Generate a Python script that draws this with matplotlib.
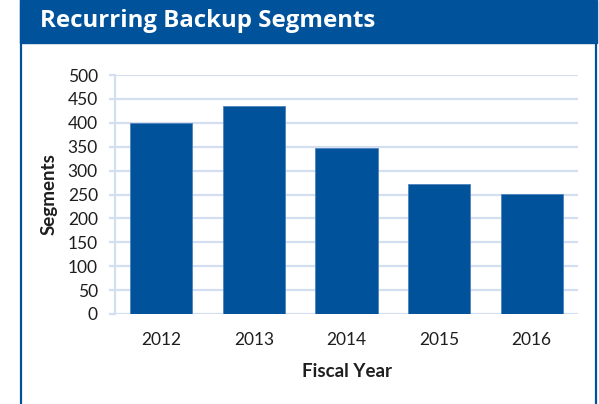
import matplotlib
matplotlib.use("Agg")
import matplotlib.pyplot as plt
from matplotlib.patches import Rectangle
from matplotlib.lines import Line2D

# data
years = ["2012", "2013", "2014", "2015", "2016"]
segments = [400, 436, 348, 272, 251]
y_ticks = [0, 50, 100, 150, 200, 250, 300, 350, 400, 450, 500]

BLUE = "#00529B"
GRID = "#D3DEF0"
TXT = "#1E1E1E"

W, H = 599, 404
fig = plt.figure(figsize=(W / 100, H / 100), dpi=100)

# title banner and side borders
fig.patches.append(Rectangle((20 / W, 1 - 43 / H), 577 / W, 43 / H,
                             transform=fig.transFigure, color=BLUE, zorder=0))
fig.lines.append(Line2D([21 / W, 21 / W], [0, 1], transform=fig.transFigure,
                        color=BLUE, lw=1.6))
fig.lines.append(Line2D([596 / W, 596 / W], [0, 1], transform=fig.transFigure,
                        color=BLUE, lw=1.6))
fig.text(40 / W, 1 - 21 / H, "Recurring Backup Segments", color="white",
         fontsize=17.3, fontweight="bold", family="Open Sans", va="center", ha="left")

ax = fig.add_axes([115 / W, 1 - 314 / H, 463 / W, 239 / H])
ax.bar(years, segments, width=0.67, color=BLUE, edgecolor="#4F81BD",
       linewidth=0.6, zorder=3)
ax.set_xlim(-0.5, len(years) - 0.5)
ax.set_ylim(0, 500)
ax.set_yticks(y_ticks)
ax.yaxis.grid(True, color=GRID, lw=1.6, zorder=0)
for s in ["top", "right", "bottom"]:
    ax.spines[s].set_visible(False)
ax.spines["left"].set_color(GRID)
ax.spines["left"].set_linewidth(1.6)
ax.tick_params(axis="y", length=4.3, width=1.6, color=GRID, pad=8,
               labelsize=12.5, labelcolor=TXT)
ax.tick_params(axis="x", length=0, pad=13, labelsize=12.5, labelcolor=TXT)
for lab in ax.get_xticklabels() + ax.get_yticklabels():
    lab.set_family("Lato")

ax.set_ylabel("Segments", fontsize=13.5, fontweight="bold", family="Lato",
              color=TXT, labelpad=7)
ax.set_xlabel("Fiscal Year", fontsize=13.5, fontweight="bold", family="Lato",
              color=TXT, labelpad=11)

fig.savefig("out.png", dpi=100)
